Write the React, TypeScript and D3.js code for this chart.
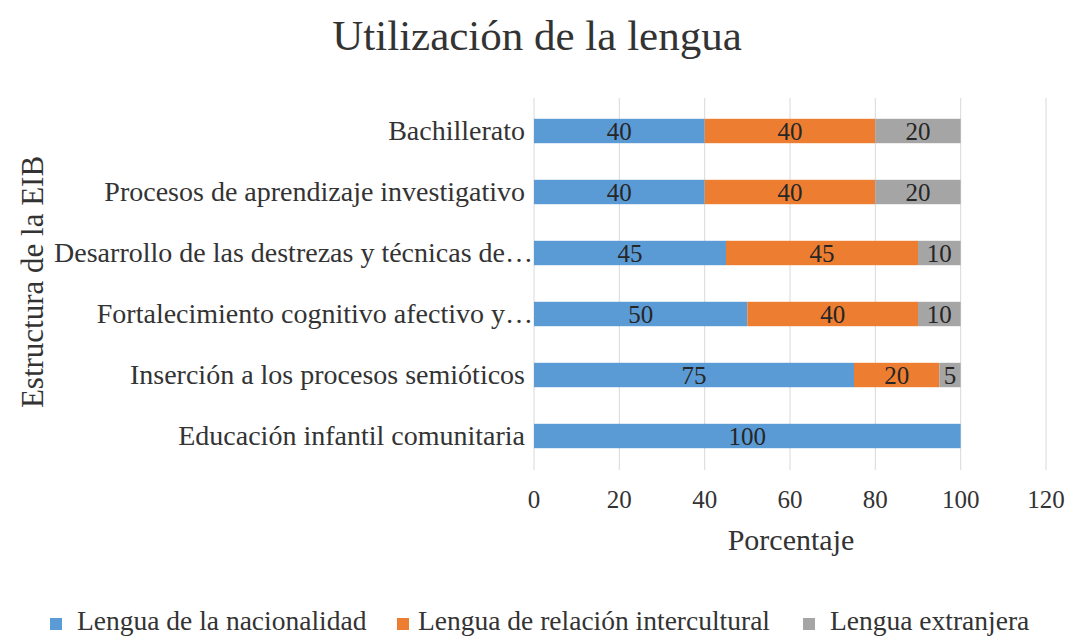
import React from "react";
import * as d3 from "d3";

const categories = [
  "Bachillerato",
  "Procesos de aprendizaje investigativo",
  "Desarrollo de las destrezas y técnicas de…",
  "Fortalecimiento cognitivo afectivo y…",
  "Inserción a los procesos semióticos",
  "Educación infantil comunitaria",
];
const seriesNames = [
  "Lengua de la nacionalidad",
  "Lengua de relación intercultural",
  "Lengua extranjera",
];
const nacionalidad = [40, 40, 45, 50, 75, 100];
const intercultural = [40, 40, 45, 40, 20, 0];
const extranjera = [20, 20, 10, 10, 5, 0];
const xTicks = [0, 20, 40, 60, 80, 100, 120];
const colors = ["#5b9bd5", "#ed7d31", "#a5a5a5"];

const W = 1070;
const H = 636;
const font = "'Liberation Serif', 'Times New Roman', serif";
const ink = "#333333";

const App = () => {
  const x = d3.scaleLinear().domain([0, 120]).range([534, 1046]);
  const y = d3.scaleBand().domain(categories).range([100.5, 466.5]).paddingInner(0.6).paddingOuter(0.3);

  const rows = categories.map((c, i) => ({
    cat: c,
    v0: nacionalidad[i],
    v1: intercultural[i],
    v2: extranjera[i],
  }));
  const stack = d3.stack<any>().keys(["v0", "v1", "v2"])(rows);

  // legend swatch positions
  const legendX = [50, 397, 803];

  return (
    <svg width={W} height={H} style={{ position: "absolute", left: 0, top: 0, background: "#fff" }} fontFamily={font}>
      <text x={537} y={50} textAnchor="middle" fontSize={43} fill={ink}>
        Utilización de la lengua
      </text>
      {xTicks.map((t) => (
        <line key={t} x1={x(t)} x2={x(t)} y1={98} y2={470} stroke="#d9d9d9" strokeWidth={1} />
      ))}
      {stack.map((s, si) => (
        <g key={si} fill={colors[si]}>
          {s.map((d, i) => {
            const w = x(d[1]) - x(d[0]);
            if (w <= 0) return null;
            return <rect key={i} x={x(d[0])} y={y(categories[i])} width={w} height={y.bandwidth()} />;
          })}
        </g>
      ))}
      {stack.map((s, si) =>
        s.map((d, i) => {
          const v = d[1] - d[0];
          if (v <= 0) return null;
          return (
            <text
              key={`${si}-${i}`}
              x={(x(d[0]) + x(d[1])) / 2}
              y={y(categories[i])! + y.bandwidth() / 2}
              dy="0.35em"
              textAnchor="middle"
              fontSize={25}
              fill="#262626"
            >
              {v}
            </text>
          );
        })
      )}
      {categories.map((c) => (
        <text
          key={c}
          x={c.endsWith("…") ? 533 : 525}
          y={y(c)! + y.bandwidth() / 2}
          dy="0.33em"
          textAnchor="end"
          fontSize={28}
          fill={ink}
        >
          {c}
        </text>
      ))}
      {xTicks.map((t) => (
        <text key={t} x={x(t)} y={508} textAnchor="middle" fontSize={25} fill={ink}>
          {t}
        </text>
      ))}
      <text x={791} y={550} textAnchor="middle" fontSize={30} fill={ink}>
        Porcentaje
      </text>
      <text transform={`translate(43, 282) rotate(-90)`} textAnchor="middle" fontSize={31} fill={ink}>
        Estructura de la EIB
      </text>
      {seriesNames.map((n, i) => (
        <g key={n} transform={`translate(${legendX[i]}, 630)`}>
          <rect x={0} y={-12} width={12} height={12} fill={colors[i]} />
          <text x={i === 1 ? 21 : 27} y={0} fontSize={27.5} fill={ink}>
            {n}
          </text>
        </g>
      ))}
    </svg>
  );
};

export default App;
